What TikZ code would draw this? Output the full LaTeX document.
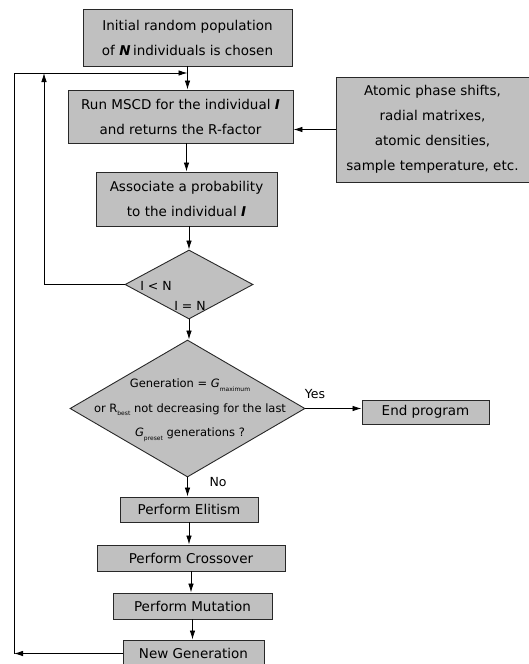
\documentclass[tikz,border=0pt]{standalone}
\usepackage{fontspec}
\setmainfont{DejaVu Sans}
\usetikzlibrary{arrows.meta,shapes.geometric}
\definecolor{boxfill}{RGB}{192,192,192}
\definecolor{boxline}{RGB}{40,40,40}
\newcommand{\subsm}[1]{\raisebox{-3.5pt}{\fontsize{6}{6}\selectfont #1}}
\begin{document}
\begin{tikzpicture}[x=1pt,y=-1pt,
  box/.style={draw=boxline,line width=0.9pt,fill=boxfill,inner sep=0pt,align=center,
    font=\fontsize{13.5}{25}\selectfont},
  dia/.style={draw=boxline,line width=0.9pt,fill=boxfill,diamond,inner sep=0pt},
  lbl/.style={inner sep=0pt,align=center,font=\fontsize{12.5}{24.5}\selectfont},
  arr/.style={draw=black,line width=0.8pt,-{Latex[length=9pt,width=5.5pt]}},
  ln/.style={draw=black,line width=0.8pt}]
\useasboundingbox (0,0) rectangle (528,664);
% boxes
\node[box,minimum width=209pt,minimum height=57pt] (b1) at (187.5,37.5)
  {Initial random population\\of \textbf{\textit{N}}\,individuals is chosen};
\node[box,minimum width=225pt,minimum height=53pt] (b2) at (180.5,116.5)
  {Run MSCD for the individual \textbf{\textit{I}}\\and returns the R-factor};
\node[box,minimum width=193pt,minimum height=105pt] (rb) at (432.5,129.5)
  {Atomic phase shifts,\\radial matrixes,\\atomic densities,\\sample temperature, etc.};
\node[box,minimum width=181pt,minimum height=54pt] (b3) at (186.5,199)
  {Associate a probability\\to the individual \textbf{\textit{I}}};
\node[dia,minimum width=128pt,minimum height=69pt] (d1) at (189,284.5) {};
\node[dia,minimum width=235pt,minimum height=137pt] (d2) at (187.5,408.5) {};
\node[box,minimum width=127pt,minimum height=24pt] (en) at (425.5,412) {End program};
\node[box,minimum width=138pt,minimum height=25pt] (el) at (189,509.5) {Perform Elitism};
\node[box,minimum width=188pt,minimum height=26pt] (cr) at (191,558) {Perform Crossover};
\node[box,minimum width=159pt,minimum height=26pt] (mu) at (192.5,606) {Perform Mutation};
\node[box,minimum width=141pt,minimum height=27pt] (ng) at (193.5,653.5) {New Generation};
% labels
\node[lbl] (lt) at (156,286) {I < N};
\node[lbl] (eq) at (190,306) {I = N};
\node[lbl,font=\fontsize{11.5}{24.5}\selectfont] (dt) at (190,410)
  {Generation = \textit{G}\subsm{maximum}\\or R\subsm{best} not decreasing for the last\\\textit{G}\subsm{preset} generations ?};
\node[lbl] (yes) at (315,394) {Yes};
\node[lbl] (no) at (218,482) {No};
% coordinates
\coordinate (top) at (187.5,73);
\coordinate (in1) at (44,73);
\coordinate (out) at (14,73);
% connectors
\draw[arr] (b1.south) -- (b1.south |- b2.north);
\draw[arr] (b3.north |- b2.south) -- (b3.north);
\draw[arr] (rb.west) -- (rb.west -| b2.east);
\draw[arr] (d1.north |- b3.south) -- (d1.north);
\draw[arr] (d1.south) -- (d1.south |- d2.north);
\draw[arr] (d2.east) -- (d2.east -| en.west);
\draw[arr] (d2.south) -- (d2.south |- el.north);
\draw[arr] (el.south) -- (el.south |- cr.north);
\draw[arr] (cr.south) -- (cr.south |- mu.north);
\draw[arr] (mu.south) -- (mu.south |- ng.north);
\draw[arr] (d1.west) -| (in1);
\draw[arr] (ng.west) -- (ng.west -| out);
\draw[arr] (ng.west -| out) -- (out) -- (top);
\end{tikzpicture}
\end{document}
